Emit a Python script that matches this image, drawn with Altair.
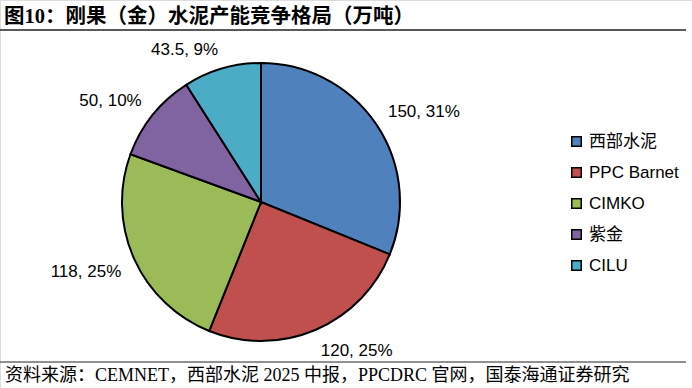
import math
import altair as alt
import pandas as pd

categories = ["西部水泥", "PPC Barnet", "CIMKO", "紫金", "CILU"]
values = [150, 120, 118, 50, 43.5]
shares = ["31%", "25%", "25%", "10%", "9%"]
colors = ["#4F81BD", "#C0504D", "#9BBB59", "#8064A2", "#4BACC6"]

title_text = "图10：刚果（金）水泥产能竞争格局（万吨）"
source_text = "资料来源：CEMNET，西部水泥 2025 中报，PPCDRC 官网，国泰海通证券研究"

total = sum(values)
# label anchor side derived from each slice's mid angle (Excel "outside end" style)
aligns, baselines = [], []
cum = 0.0
for v in values:
    mid = (cum + v / 2) / total * 2 * math.pi
    cum += v
    aligns.append("left" if math.sin(mid) > 0 else "right")
    baselines.append("alphabetic" if math.cos(mid) > 0 else "top")

df = pd.DataFrame({
    "cat": categories,
    "val": values,
    "order": list(range(len(categories))),
    "label": [f"{v:g}, {s}" for v, s in zip(values, shares)],
    "align": aligns,
    "baseline": baselines,
})

W, H = 692, 388
CX, CY, R = 261, 202, 139
FONT_SANS = "Liberation Sans, Arial, Noto Sans CJK SC"

pie = alt.Chart(df).mark_arc(radius=R, stroke="black", strokeWidth=2).encode(
    theta=alt.Theta("val:Q", stack=True),
    order=alt.Order("order:Q"),
    x=alt.value(CX), y=alt.value(CY),
    color=alt.Color(
        "cat:N",
        scale=alt.Scale(domain=categories, range=colors),
        sort=categories,
        legend=alt.Legend(
            title=None, orient="none", legendX=568, legendY=133,
            symbolType="square", symbolSize=90, symbolStrokeColor="black",
            symbolStrokeWidth=1.5, labelFontSize=17,
            labelFont=FONT_SANS, labelColor="#000",
            rowPadding=13, labelLimit=200, labelOffset=4,
        ),
    ),
)

label_layers = []
for al in ["left", "right"]:
    for bl in ["alphabetic", "top"]:
        layer = alt.Chart(df).transform_window(
            cum="sum(val)", sort=[alt.SortField("order")],
        ).transform_calculate(
            mid="datum.cum - datum.val / 2"
        ).transform_filter(
            (alt.datum.align == al) & (alt.datum.baseline == bl)
        ).mark_text(
            radius=R + 14, fontSize=17, font=FONT_SANS, color="#000",
            align=al, baseline=bl,
        ).encode(
            theta=alt.Theta("mid:Q", stack=False,
                            scale=alt.Scale(domain=[0, total], range=[0, 2 * math.pi])),
            x=alt.value(CX), y=alt.value(CY), text="label:N",
        )
        label_layers.append(layer)

one = pd.DataFrame({"a": [0]})
title = alt.Chart(one).mark_text(
    text=title_text, align="left", baseline="alphabetic", fontSize=20.5,
    fontWeight="bold", font="Liberation Serif, Noto Sans CJK SC", color="#000",
).encode(x=alt.value(4), y=alt.value(23))

top_rule = alt.Chart(one).mark_rule(color="#222", strokeWidth=1.5).encode(
    x=alt.value(0), x2=alt.value(686), y=alt.value(30))
bot_rule = alt.Chart(one).mark_rule(color="#222", strokeWidth=1).encode(
    x=alt.value(0), x2=alt.value(686), y=alt.value(362))

source = alt.Chart(one).mark_text(
    text=source_text, align="left", baseline="alphabetic", fontSize=18,
    font="Liberation Serif, Noto Sans CJK SC", color="#000",
).encode(x=alt.value(5), y=alt.value(381))

chart = alt.layer(pie, *label_layers, title, top_rule, bot_rule, source).properties(
    width=W, height=H, padding=0, autosize=alt.AutoSizeParams(type="none"),
).configure_view(stroke=None).configure(background="white")

chart.save("out.html", embed_options={"renderer": "svg", "actions": False})
